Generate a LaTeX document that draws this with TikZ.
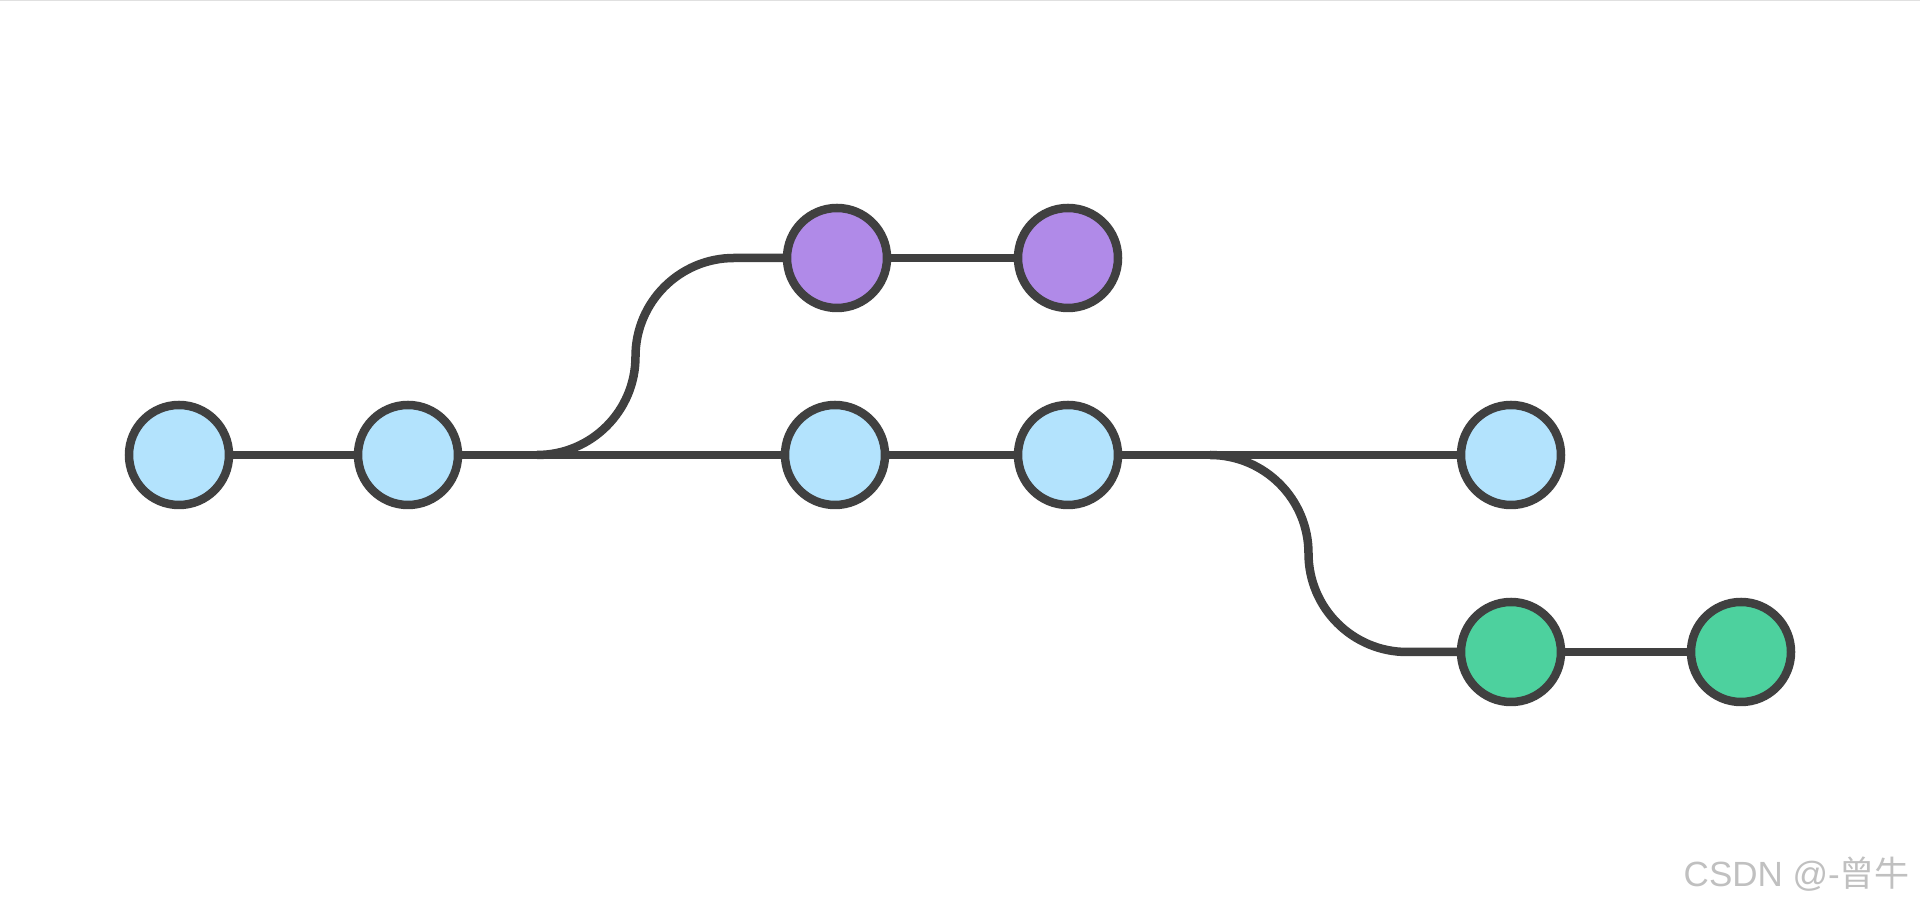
\documentclass[tikz,border=0pt]{standalone}
\usepackage{fontspec}
\newfontfamily\wmlatin{Liberation Sans}
\newfontfamily\wmcjk{Noto Sans CJK SC}
\definecolor{strokegray}{RGB}{64,64,64}
\definecolor{mainblue}{RGB}{179,227,253}
\definecolor{featpurple}{RGB}{176,138,232}
\definecolor{featgreen}{RGB}{77,209,158}
\definecolor{wmgray}{RGB}{192,192,192}
\definecolor{topline}{RGB}{224,224,224}
\tikzset{
  commit/.style={circle, draw=strokegray, line width=8.5pt, minimum size=100pt, inner sep=0pt},
  maincommit/.style={commit, fill=mainblue},
  purplecommit/.style={commit, fill=featpurple},
  greencommit/.style={commit, fill=featgreen},
  branchline/.style={draw=strokegray, line width=8.5pt},
}
\begin{document}
\begin{tikzpicture}[x=1pt,y=1pt]
\useasboundingbox (0,0) rectangle (1920,912);
\fill[white] (0,0) rectangle (1920,912);
\draw[topline, line width=1.5pt] (0,911.25) -- (1920,911.25);

% main line commits
\node[maincommit] (n1) at (179,457) {};
\node[maincommit] (n2) at (408,457) {};
\node[maincommit] (n3) at (835,457) {};
\node[maincommit] (n4) at (1068,457) {};
\node[maincommit] (n5) at (1511,457) {};
% purple branch
\node[purplecommit] (p1) at (837,654) {};
\node[purplecommit] (p2) at (1068,654) {};
% green branch
\node[greencommit] (g1) at (1511,260) {};
\node[greencommit] (g2) at (1741,260) {};

\coordinate (b1) at (537,457);
\coordinate (b2) at (1210,457);

\path[branchline] (n1) -- (n2);
\path[branchline] (n2) -- (n3);
\path[branchline] (n3) -- (n4);
\path[branchline] (n4) -- (n5);
\path[branchline] (p1) -- (p2);
\path[branchline] (g1) -- (g2);
\path[branchline] (b1) arc[start angle=-90, end angle=0, radius=98.5]
   arc[start angle=180, end angle=90, radius=98.5] -- (p1);
\path[branchline] (b2) arc[start angle=90, end angle=0, radius=98.5]
   arc[start angle=180, end angle=270, radius=98.5] -- (g1);

\node[anchor=base east, inner sep=0pt, text=wmgray, font=\fontsize{35}{40}\selectfont] (wm) at (1910,25) {\wmlatin CSDN @-\wmcjk 曾牛};
\end{tikzpicture}
\end{document}
